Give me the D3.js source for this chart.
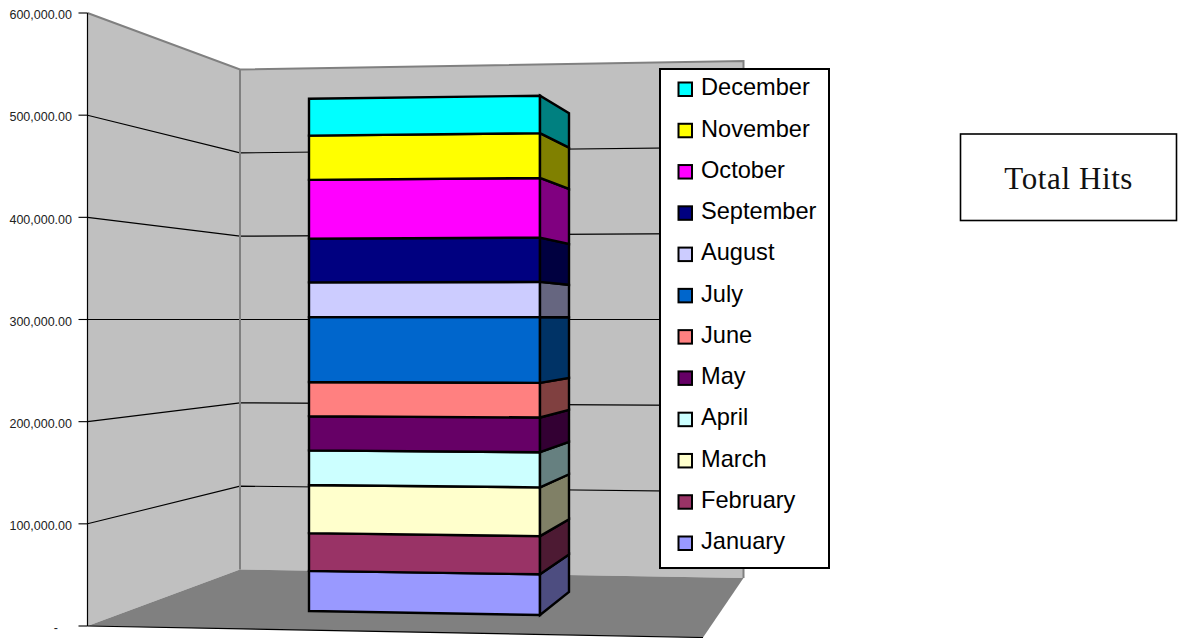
<!DOCTYPE html>
<html><head><meta charset="utf-8">
<script src="https://cdn.jsdelivr.net/npm/d3@7"></script>
<style>html,body{margin:0;padding:0;background:#fff}svg{display:block}</style>
</head><body><svg id="c" width="1179" height="638"></svg>
<script>
const months = ["January","February","March","April","May","June","July","August","September","October","November","December"];
const hits = [41300,38800,49500,35700,35200,35200,66700,35800,45000,60500,45500,38000];
const fills = ["#9999FF","#993366","#FFFFCC","#CCFFFF","#660066","#FF8080","#0066CC","#CCCCFF","#000080","#FF00FF","#FFFF00","#00FFFF"];
const tickValues = [0,100000,200000,300000,400000,500000,600000];
const title = "Total Hits";

const svg = d3.select("#c");
const horizon = 319.5;
// perspective factor: 1 at floor level, 0 at the eye height, -1 at the chart top
const lift = d3.scaleLinear().domain([0,600000]).range([1,-1]);
const at = (p,v) => [p[0], horizon + (p[1]-horizon)*lift(v)];
const line = d3.line();
const poly = pts => line(pts)+"Z";

// floor corners and bar footprint, on screen
const FL=[87.5,626], BL=[240,569.5], BR=[743.5,578], FR=[703,637.5];
const bFL=[309,611], bFR=[540,615], bBR=[569,592];
const vMax = 600000;

// walls and floor
svg.append("path").attr("d",poly([at(FL,0),at(BL,0),at(BL,vMax),at(FL,vMax)])).attr("fill","#c0c0c0");
svg.append("path").attr("d",poly([at(BL,0),at(BR,0),at(BR,vMax),at(BL,vMax)])).attr("fill","#c0c0c0");
svg.append("path").attr("d",poly([FL,BL,BR,FR])).attr("fill","#808080");

// gridlines
tickValues.filter(v=>v>0&&v<vMax).forEach(v=>{
  svg.append("path").attr("d",line([at(FL,v),at(BL,v),at(BR,v)]))
    .attr("fill","none").attr("stroke","#000").attr("stroke-width",1.1);
});
// wall edges
svg.append("path").attr("d",line([at(FL,vMax),at(BL,vMax),at(BR,vMax),at(BR,0)]))
  .attr("fill","none").attr("stroke","#808080").attr("stroke-width",2);
svg.append("path").attr("d",line([at(BL,vMax),at(BL,0)]))
  .attr("fill","none").attr("stroke","#808080").attr("stroke-width",2);
svg.append("path").attr("d",line([FL,FR])).attr("fill","none").attr("stroke","#000").attr("stroke-width",1.2);

// axis
svg.append("path").attr("d",line([at(FL,0),at(FL,vMax)])).attr("stroke","#000").attr("stroke-width",1.2);
const fmt = d3.format(",.2f");
tickValues.forEach(v=>{
  const [x,y]=at(FL,v);
  svg.append("line").attr("x1",x-9).attr("x2",x).attr("y1",y).attr("y2",y).attr("stroke","#000").attr("stroke-width",1.1);
  svg.append("text").attr("x",v===0?58:72).attr("y",v===0?y+3:y+3)
    .attr("dominant-baseline","middle").attr("text-anchor","end")
    .attr("font-family","'Liberation Sans',Arial,sans-serif").attr("font-size",12.5).attr("fill","#222")
    .text(v===0?"-":fmt(v));
});

// stacked bar
const stack = d3.stack().keys(months)([Object.fromEntries(months.map((m,i)=>[m,hits[i]]))]);
stack.forEach((s,i)=>{
  const [v0,v1]=s[0];
  svg.append("path").attr("d",poly([at(bFL,v0),at(bFR,v0),at(bFR,v1),at(bFL,v1)]))
    .attr("fill",fills[i]).attr("stroke","#000").attr("stroke-width",2.4).attr("stroke-linejoin","miter");
  const c=d3.rgb(fills[i]);
  svg.append("path").attr("d",poly([at(bFR,v0),at(bBR,v0),at(bBR,v1),at(bFR,v1)]))
    .attr("fill",d3.rgb(c.r/2,c.g/2,c.b/2)).attr("stroke","#000").attr("stroke-width",2.4).attr("stroke-linejoin","miter");
});

// legend
svg.append("rect").attr("x",660).attr("y",69).attr("width",169).attr("height",499)
  .attr("fill","#fff").attr("stroke","#000").attr("stroke-width",2);
const order = months.slice().reverse();
const ly = d3.scalePoint().domain(order).range([89,543]);
order.forEach(m=>{
  const y=ly(m);
  svg.append("rect").attr("x",678.5).attr("y",y-6.5).attr("width",13.5).attr("height",13.5)
    .attr("fill",fills[months.indexOf(m)]).attr("stroke","#000").attr("stroke-width",2);
  svg.append("text").attr("x",701).attr("y",y).attr("dominant-baseline","middle")
    .attr("font-family","'Liberation Sans',Arial,sans-serif").attr("font-size",23.6).attr("fill","#000").text(m);
});

// title box
svg.append("rect").attr("x",960.5).attr("y",134).attr("width",216).attr("height",86.5)
  .attr("fill","#fff").attr("stroke","#000").attr("stroke-width",1.6);
svg.append("text").attr("x",1068.7).attr("y",189).attr("text-anchor","middle")
  .attr("font-family","'Liberation Serif',serif").attr("font-size",31).attr("letter-spacing",0.6).attr("fill","#111").text(title);
</script></body></html>
